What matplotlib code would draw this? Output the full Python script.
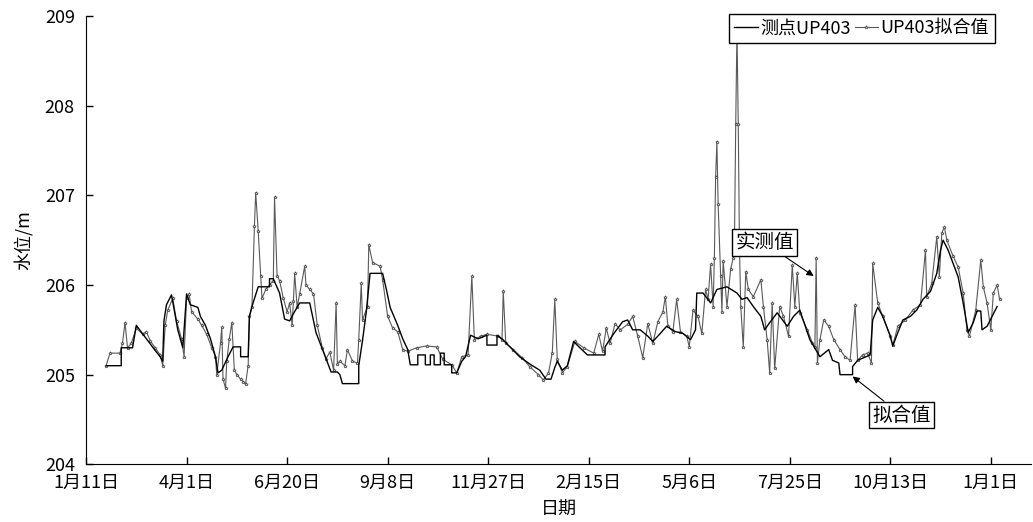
import matplotlib
matplotlib.use('Agg')
import matplotlib.pyplot as plt

plt.rcParams['font.family'] = ['Noto Sans CJK SC', 'DejaVu Sans']

# x axis: days counted from 1月11日
tick_days = [0, 80, 160, 240, 320, 400, 480, 560, 640, 720]
tick_labels = ['1月11日', '4月1日', '6月20日', '9月8日', '11月27日',
               '2月15日', '5月6日', '7月25日', '10月13日', '1月1日']

# 测点UP403 (step line)
meas_day = [16, 28, 28, 37, 40, 47, 55, 59, 61, 62, 64, 68, 73, 77, 80, 83, 89, 91, 95, 99,
            103, 105, 108, 113, 117, 123, 123, 129, 130, 132, 137, 146, 146, 149, 154, 158, 162, 165, 170, 178,
            183, 189, 193, 195, 200, 202, 204, 217, 217, 220, 223, 226, 236, 239, 242, 248, 252, 256, 258, 264,
            264, 270, 270, 274, 274, 277, 277, 282, 282, 285, 285, 291, 291, 295, 299, 302, 306, 312, 319, 319,
            327, 327, 331, 338, 345, 353, 361, 366, 370, 373, 375, 379, 383, 388, 393, 399, 413, 413, 420, 427,
            431, 435, 441, 447, 451, 457, 462, 469, 475, 481, 485, 486, 491, 497, 502, 510, 518, 522, 526, 531,
            537, 540, 544, 550, 558, 563, 568, 576, 584, 591, 594, 599, 600, 610, 610, 614, 624, 626, 630, 634,
            640, 642, 646, 650, 656, 661, 666, 672, 677, 680, 682, 686, 690, 694, 698, 702, 706, 709, 712, 713,
            717, 721, 725]
meas_val = [205.10, 205.10, 205.30, 205.30, 205.55, 205.42, 205.27, 205.20, 205.15, 205.60,
            205.78, 205.89, 205.50, 205.30, 205.90, 205.78, 205.75, 205.65, 205.55, 205.40,
            205.20, 205.02, 205.05, 205.20, 205.31, 205.31, 205.20, 205.20, 205.65, 205.76,
            205.98, 205.98, 206.07, 206.07, 205.91, 205.62, 205.60, 205.68, 205.80, 205.80,
            205.47, 205.25, 205.10, 205.03, 205.03, 205.00, 204.90, 204.90, 205.10, 205.38,
            205.70, 206.13, 206.13, 205.95, 205.75, 205.55, 205.40, 205.28, 205.11, 205.11,
            205.22, 205.22, 205.11, 205.11, 205.22, 205.22, 205.11, 205.11, 205.24, 205.24,
            205.11, 205.11, 205.02, 205.02, 205.15, 205.20, 205.44, 205.40, 205.44, 205.33,
            205.33, 205.44, 205.40, 205.30, 205.20, 205.12, 205.05, 204.95, 204.95, 205.08,
            205.15, 205.05, 205.10, 205.37, 205.30, 205.22, 205.22, 205.31, 205.46, 205.59,
            205.61, 205.50, 205.50, 205.43, 205.37, 205.46, 205.54, 205.48, 205.46, 205.39,
            205.50, 205.91, 205.91, 205.80, 205.95, 205.98, 205.91, 205.84, 205.86, 205.76,
            205.65, 205.50, 205.58, 205.69, 205.54, 205.65, 205.72, 205.39, 205.20, 205.28,
            205.16, 205.13, 205.00, 205.00, 205.09, 205.16, 205.22, 205.61, 205.75, 205.65,
            205.43, 205.32, 205.47, 205.61, 205.65, 205.72, 205.84, 205.93, 206.13, 206.39,
            206.50, 206.39, 206.24, 206.09, 205.80, 205.47, 205.58, 205.71, 205.71, 205.50,
            205.54, 205.65, 205.76]

# UP403拟合值 (spiky line with markers)
fit_day = [16, 19, 27, 29, 31, 33, 36, 40, 45, 48, 51, 55, 59, 61, 63, 65, 69, 72, 76, 78,
           80, 82, 84, 89, 92, 96, 100, 103, 104, 107, 108, 109, 111, 112, 114, 116, 118, 120, 123, 125,
           127, 129, 130, 132, 134, 135, 137, 139, 140, 143, 146, 149, 150, 152, 154, 157, 160, 162, 164, 165,
           166, 168, 170, 174, 175, 178, 181, 184, 188, 191, 194, 197, 199, 200, 202, 206, 208, 212, 216, 217,
           219, 220, 224, 225, 228, 234, 236, 240, 244, 248, 252, 256, 263, 271, 279, 284, 291, 295, 299, 304,
           307, 309, 314, 319, 328, 331, 332, 334, 340, 347, 353, 360, 364, 368, 371, 373, 375, 379, 383, 389,
           396, 404, 408, 411, 414, 417, 421, 425, 431, 435, 439, 443, 447, 451, 455, 459, 461, 463, 467, 470,
           473, 478, 480, 483, 487, 490, 493, 495, 497, 499, 500, 501, 502, 503, 505, 506, 507, 510, 513, 515,
           516, 517, 518, 519, 520, 521, 523, 525, 527, 531, 537, 539, 542, 544, 546, 548, 552, 555, 559, 562,
           564, 566, 568, 574, 578, 580, 581, 582, 584, 587, 591, 595, 600, 604, 608, 612, 614, 618, 622, 625,
           626, 630, 634, 640, 642, 646, 652, 658, 664, 668, 669, 673, 677, 679, 681, 683, 685, 690, 694, 698,
           701, 703, 708, 712, 714, 717, 720, 722, 725, 727]
fit_val = [205.10, 205.24, 205.24, 205.35, 205.58, 205.30, 205.35, 205.52, 205.45, 205.48,
           205.38, 205.30, 205.22, 205.10, 205.55, 205.72, 205.85, 205.60, 205.40, 205.20,
           205.85, 205.90, 205.70, 205.62, 205.55, 205.45, 205.30, 205.20, 205.00, 205.35,
           205.53, 204.95, 204.85, 205.15, 205.40, 205.58, 205.05, 205.00, 204.95, 204.92,
           204.90, 205.10, 205.65, 205.75, 206.66, 207.03, 206.60, 206.10, 205.85, 205.95,
           206.00, 206.05, 206.98, 206.10, 206.05, 205.85, 205.70, 205.80, 205.55, 205.82,
           206.13, 205.75, 205.90, 206.21, 206.00, 205.95, 205.90, 205.55, 205.30, 205.18,
           205.25, 205.05, 205.80, 205.12, 205.15, 205.10, 205.28, 205.15, 205.13, 205.39,
           206.02, 205.61, 205.76, 206.45, 206.25, 206.21, 206.06, 205.65, 205.52, 205.48,
           205.28, 205.26, 205.30, 205.32, 205.31, 205.17, 205.11, 205.02, 205.20, 205.22,
           206.10, 205.39, 205.43, 205.45, 205.43, 205.39, 205.93, 205.35, 205.28, 205.19,
           205.09, 205.00, 204.94, 205.02, 205.24, 205.84, 205.17, 205.02, 205.09, 205.37,
           205.30, 205.24, 205.45, 205.26, 205.52, 205.35, 205.57, 205.50, 205.56, 205.65,
           205.43, 205.19, 205.57, 205.35, 205.59, 205.70, 205.87, 205.54, 205.48, 205.84,
           205.48, 205.43, 205.31, 205.72, 205.65, 205.46, 205.95, 205.84, 206.23, 205.76,
           206.30, 207.20, 207.60, 206.90, 206.10, 205.70, 206.27, 205.76, 206.18, 206.30,
           206.50, 207.80, 208.85, 207.80, 206.40, 205.76, 205.31, 206.15, 205.95, 205.87,
           206.06, 205.76, 205.39, 205.02, 205.80, 205.07, 205.76, 205.65, 205.43, 206.22,
           205.76, 206.13, 205.69, 205.50, 205.35, 205.31, 206.30, 205.13, 205.39, 205.61,
           205.54, 205.39, 205.28, 205.20, 205.16, 205.78, 205.16, 205.22, 205.24, 205.13,
           206.24, 205.80, 205.65, 205.43, 205.33, 205.54, 205.61, 205.72, 205.78, 206.39,
           205.87, 206.02, 206.54, 206.09, 206.58, 206.65, 206.50, 206.32, 206.20, 205.91,
           205.50, 205.43, 205.72, 206.28, 205.98, 205.80, 205.50, 205.91, 206.00, 205.84]

fig = plt.figure(figsize=(10.33, 5.22), dpi=100)
ax = fig.add_axes([0.0833, 0.1105, 0.9148, 0.8588])

l_fit, = ax.plot(fit_day, fit_val, color='0.35', lw=0.8, marker='*', ms=2.6,
                 mfc='white', mec='0.3', mew=0.5, zorder=2, label='UP403拟合值')
l_meas, = ax.plot(meas_day, meas_val, color='black', lw=1.0, zorder=3, label='测点UP403')

ax.set_xlim(0, 752)
ax.set_ylim(204, 209)
ax.set_yticks([204, 205, 206, 207, 208, 209])
ax.set_xticks(tick_days)
ax.set_xticklabels(tick_labels)
ax.tick_params(direction='in', length=5, width=1, labelsize=13)
ax.tick_params(axis='y', pad=8)
ax.tick_params(axis='x', pad=7)
ax.spines['top'].set_visible(False)
ax.spines['right'].set_visible(False)
ax.set_xlabel('日期', fontsize=13, labelpad=6)
ax.set_ylabel('水位/m', fontsize=13, labelpad=8)

leg = ax.legend(handles=[l_meas, l_fit], loc='upper right', ncol=2,
                bbox_to_anchor=(0.9615, 1.005), borderaxespad=0, fontsize=13,
                handlelength=1.3, handletextpad=0.15, columnspacing=0.2,
                borderpad=0.3, fancybox=False, edgecolor='black', framealpha=1)
leg.get_frame().set_linewidth(1.0)
leg.set_zorder(5)

box = dict(boxstyle='square,pad=0.15', fc='white', ec='black', lw=1)
arr = dict(arrowstyle='-|>', color='black', lw=0.8, mutation_scale=10, shrinkA=0, shrinkB=0)
ax.annotate('实测值', xy=(579, 206.10), xytext=(540, 206.47), ha='center', va='center',
            fontsize=14, bbox=box, arrowprops=arr, zorder=6)
ax.annotate('拟合值', xy=(610, 204.98), xytext=(649, 204.55), ha='center', va='center',
            fontsize=14, bbox=box, arrowprops=arr, zorder=6)

fig.savefig('out.png', dpi=100)
